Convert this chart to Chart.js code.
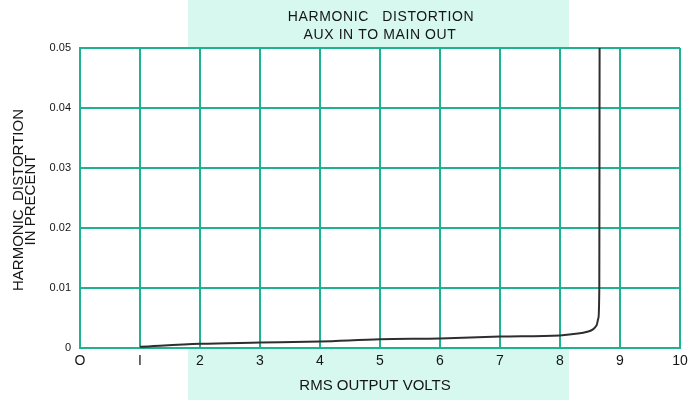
<!DOCTYPE html>
<html>
<head>
<meta charset="utf-8">
<script src="https://cdn.jsdelivr.net/npm/chart.js"></script>
<style>
  html, body { margin: 0; padding: 0; background: #ffffff; }
  #wrap { width: 699px; height: 400px; position: relative; }
</style>
</head>
<body>
<div id="wrap"><canvas id="distortionChart"></canvas></div>
<script>
// Dados
const titleLines = ['HARMONIC   DISTORTION', 'AUX IN TO MAIN OUT'];
const yTitleLines = ['HARMONIC  DISTORTION', 'IN PRECENT'];
const xTitle = 'RMS OUTPUT VOLTS';
const xTickLabels = ['O', 'I', '2', '3', '4', '5', '6', '7', '8', '9', '10'];
const yTickLabels = ['0', '0.01', '0.02', '0.03', '0.04', '0.05'];
const volts = [1, 2, 3, 4, 5, 6, 7, 8, 8.3, 8.45, 8.55, 8.61, 8.64, 8.655, 8.66];
const distortion = [0.0002, 0.0007, 0.0009, 0.0011, 0.00145, 0.0016, 0.0019, 0.0021, 0.0024, 0.0027, 0.0031, 0.0038, 0.005, 0.01, 0.05];

const gridColor = '#1fb290';
const textColor = '#151515';
const fontFamily = '"Liberation Sans", Arial, sans-serif';

// Fundo verde claro + área branca + textos
const backdropPlugin = {
    id: 'backdrop',
    beforeDraw(chart) {
        const ctx = chart.ctx;
        const a = chart.chartArea;
        ctx.save();
        ctx.fillStyle = '#d6f8ef';
        ctx.fillRect(188, 0, 381, chart.height);
        ctx.fillStyle = '#ffffff';
        ctx.fillRect(a.left, a.top, a.right - a.left, a.bottom - a.top);
        ctx.restore();
    },
    afterDraw(chart) {
        const ctx = chart.ctx;
        ctx.save();
        ctx.fillStyle = textColor;
        ctx.textAlign = 'center';
        ctx.textBaseline = 'middle';
        ctx.font = '14px ' + fontFamily;
        ctx.letterSpacing = '0.6px';
        ctx.fillText(titleLines[0], 381, 17);
        ctx.fillText(titleLines[1], 380, 35);
        ctx.font = '15px ' + fontFamily;
        ctx.letterSpacing = '0px';
        ctx.fillText(xTitle, 375, 386);
        ctx.translate(19, 200);
        ctx.rotate(-Math.PI / 2);
        ctx.fillText(yTitleLines[0], 0, 0);
        ctx.fillText(yTitleLines[1], 0, 12);
        ctx.restore();
    }
};

const ctx = document.getElementById('distortionChart').getContext('2d');
new Chart(ctx, {
    type: 'line',
    data: {
        datasets: [{
            data: volts.map((v, i) => ({ x: v, y: distortion[i] })),
            borderColor: '#2e2e2e',
            borderWidth: 2,
            pointRadius: 0,
            fill: false,
            cubicInterpolationMode: 'monotone'
        }]
    },
    options: {
        responsive: true,
        maintainAspectRatio: false,
        animation: false,
        layout: { padding: { top: 48, right: 19, left: 0, bottom: 0 } },
        plugins: {
            legend: { display: false },
            tooltip: { enabled: false }
        },
        scales: {
            x: {
                type: 'linear',
                min: 0,
                max: 10,
                afterFit: (scale) => { scale.height = 52; },
                grid: { color: gridColor, lineWidth: 2, drawTicks: false },
                border: { color: gridColor, width: 2 },
                ticks: {
                    stepSize: 1,
                    padding: 5,
                    color: textColor,
                    font: { family: fontFamily, size: 14 },
                    maxRotation: 0,
                    callback: (value) => xTickLabels[Math.round(value)]
                }
            },
            y: {
                min: 0,
                max: 0.05,
                afterFit: (scale) => { scale.width = 80; },
                grid: { color: gridColor, lineWidth: 2, drawTicks: false },
                border: { color: gridColor, width: 2 },
                ticks: {
                    stepSize: 0.01,
                    padding: 9,
                    color: textColor,
                    font: { family: fontFamily, size: 11 },
                    callback: (value) => yTickLabels[Math.round(value * 100)]
                }
            }
        }
    },
    plugins: [backdropPlugin]
});
</script>
</body>
</html>
